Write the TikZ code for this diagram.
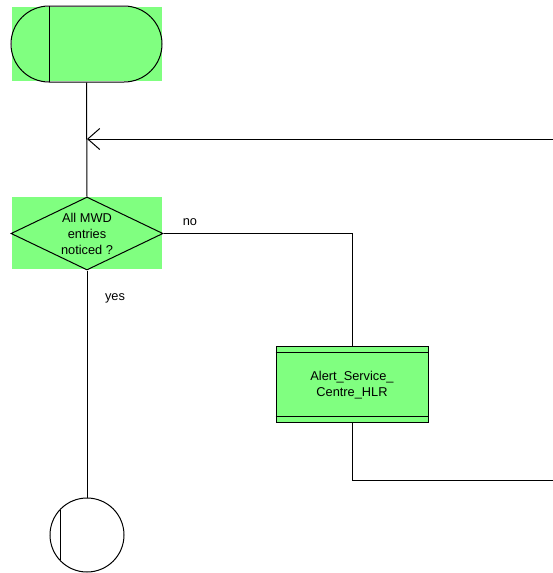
\documentclass[tikz,border=0pt]{standalone}
\usepackage{fontspec}
\setmainfont{Liberation Sans}
\usetikzlibrary{shapes.geometric,shapes.misc,arrows.meta}
\definecolor{sdlgreen}{HTML}{80FF80}
\begin{document}
\begin{tikzpicture}[x=1pt,y=-1pt,line width=1pt,
  every node/.style={font=\fontsize{12.8}{16}\selectfont},
  lbl/.style={inner sep=0pt,align=center},
  flow/.style={draw=black}]
\useasboundingbox (0,0) rectangle (553,573);
% start symbol
\fill[sdlgreen] (12,7) rectangle (162,81);
\node[rounded rectangle,draw,minimum width=151,minimum height=76,inner sep=0pt] (start) at (86.5,44) {};
\coordinate (st) at (49,6);
\coordinate (sb) at (49,82);
\draw (st) -- (sb);
% merge point
\coordinate (m) at (87,139);
\coordinate (rin) at (553,139);
% decision
\fill[sdlgreen] (12,197) rectangle (162,269);
\node[diamond,draw,minimum width=152,minimum height=73,inner sep=0pt] (dec) at (87,233.5) {};
\node[lbl] (dect) at (dec.center) {All MWD\\entries\\noticed ?};
% process
\node[rectangle,draw,fill=sdlgreen,minimum width=152,minimum height=76,inner sep=0pt] (proc) at (352,384) {};
\draw ([yshift=-7pt]proc.north west) -- ([yshift=-7pt]proc.north east);
\draw ([yshift=6pt]proc.south west) -- ([yshift=6pt]proc.south east);
\node[lbl] (proct) at ([yshift=-1pt]proc.center) {Alert\_Service\_\\Centre\_HLR};
% end
\node[circle,draw,minimum size=74,inner sep=0pt] (stop) at (87,535) {};
\coordinate (e1) at (60,510);
\coordinate (e2) at (60,560);
\draw (e1) -- (e2);
\coordinate (rout) at (553,480);
% connectors
\draw[flow] (start.south) -- (dec.north);
\draw[flow,-{Straight Barb[length=12pt,width=21pt,line width=1pt]}] (rin) -- (m);
\draw[flow] (dec.east) -| (proc.north);
\draw[flow] (proc.south) |- (rout);
\draw[flow] (dec.south) -- (stop.north);
% labels
\node[lbl] (no) at (190,222) {no};
\node[lbl] (yes) at (115,298) {yes};
\end{tikzpicture}
\end{document}
